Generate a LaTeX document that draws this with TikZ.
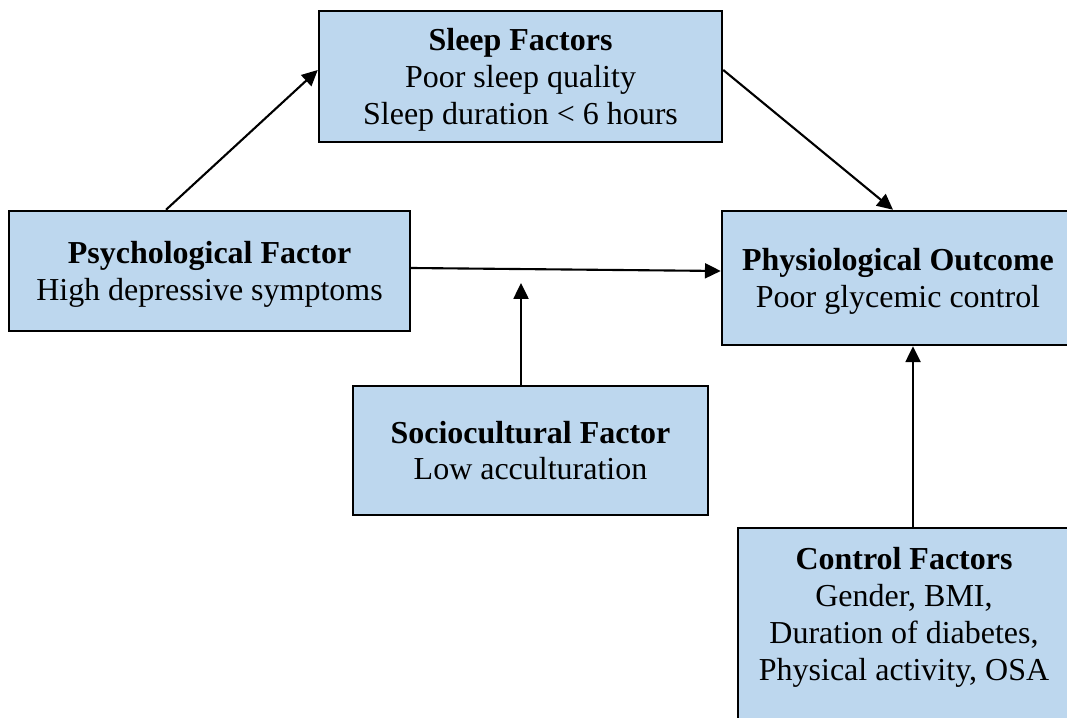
\documentclass[tikz,border=0pt]{standalone}
\usepackage{fontspec}
\setmainfont{Liberation Serif}
\usetikzlibrary{arrows.meta}
\definecolor{boxblue}{HTML}{BDD7EE}

\begin{document}
\begin{tikzpicture}[->,>={Triangle[length=9pt,width=8.5pt]},line width=1.2pt]
    \tikzstyle{factor}=[rectangle,draw=black,line width=1.4pt,fill=boxblue,align=center,inner sep=0pt,text depth=0pt,font=\fontsize{18.2}{20.9}\selectfont]

    \useasboundingbox (0,0) rectangle (21.34,-14.36);
    \clip (0,0) rectangle (21.34,-14.36);

    \node[factor,minimum width=8.06cm,minimum height=2.62cm] (sleep) at (10.41,-1.53)
        {\textbf{Sleep Factors}\\Poor sleep quality\\Sleep duration < 6 hours};
    \node[factor,minimum width=8.02cm,minimum height=2.4cm] (psych) at (4.19,-5.42)
        {\textbf{Psychological Factor}\\High depressive symptoms};
    \node[factor,minimum width=7.04cm,minimum height=2.68cm] (physio) at (17.96,-5.56)
        {\textbf{Physiological Outcome}\\Poor glycemic control};
    \node[factor,minimum width=7.1cm,minimum height=2.58cm] (socio) at (10.61,-9.01)
        {\textbf{Sociocultural Factor}\\Low acculturation};
    \node[factor,minimum width=6.64cm,anchor=north,inner ysep=0.39cm,text depth=1.28cm] (ctrl) at (18.08,-10.54)
        {\textbf{Control Factors}\\Gender, BMI,\\Duration of diabetes,\\Physical activity, OSA};

    \coordinate (mod) at (10.42,-5.66);

    \draw ([xshift=-0.87cm]psych.north) -- ([yshift=0.13cm]sleep.west);
    \draw ([yshift=0.13cm]sleep.east) -- ([xshift=-0.1cm]physio.north);
    \draw ([yshift=0.06cm]psych.east) -- ([yshift=0.14cm]physio.west);
    \draw (socio.north -| mod) -- (mod);
    \draw ([xshift=0.18cm]ctrl.north) -- ([xshift=0.18cm]ctrl.north |- physio.south);
\end{tikzpicture}
\end{document}
